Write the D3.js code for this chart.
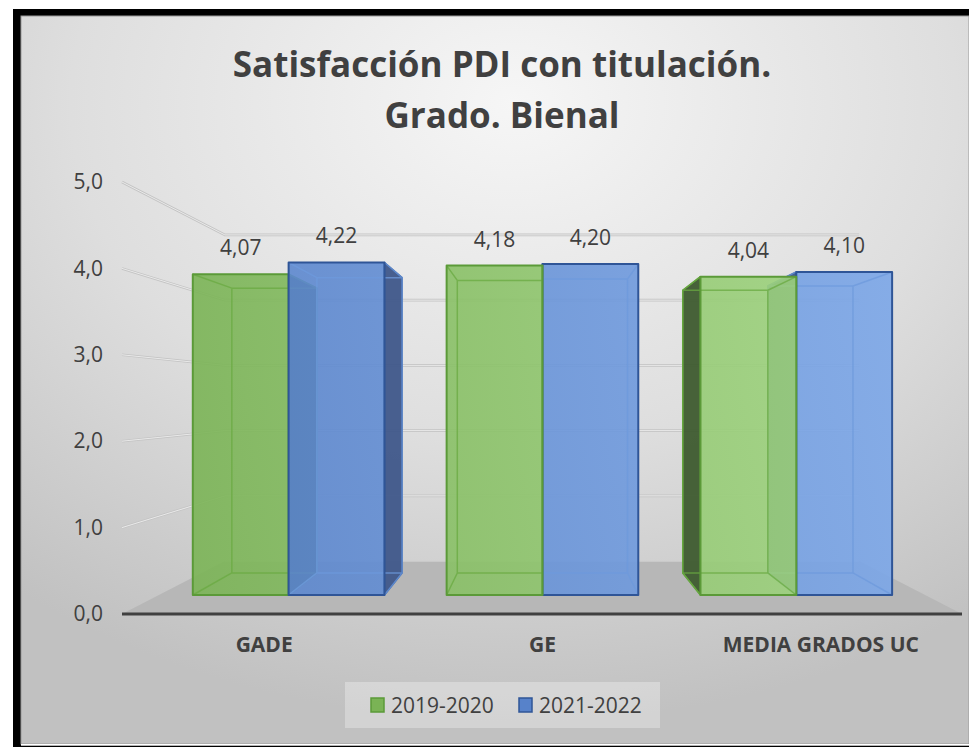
<!DOCTYPE html>
<html>
<head>
<meta charset="utf-8">
<script src="https://cdn.jsdelivr.net/npm/d3@7"></script>
<style>
  body { margin: 0; background: #fff; }
  svg { display: block; font-family: "Open Sans", sans-serif; }
</style>
</head>
<body>
<script>
// Chart data
const categories = ['GADE', 'GE', 'MEDIA GRADOS UC'];
const seriesNames = ['2019-2020', '2021-2022'];
const values2019 = [4.07, 4.18, 4.04];
const values2021 = [4.22, 4.20, 4.10];
const yTicks = [0, 1, 2, 3, 4, 5];
const titleLines = ['Satisfacción PDI con titulación.', 'Grado. Bienal'];

const width = 969, height = 747;
const textColor = '#404040';

// colours per series: face gradient, outline, dark side, inner edges
const seriesStyle = [
  { from: '#7ab355', to: '#a2d683', stroke: '#5b9a38', side: '#3e5b2f', inner: '#6aaa42' },
  { from: '#5782ca', to: '#7ca7e8', stroke: '#2f5597', side: '#3f578a', inner: '#6e99dc' }
];

// 3D perspective: vanishing point and depth scale of each plane
const VPX = 542, VPY = 398;
const depth = { wall: 0.755, barFront: 0.912, barBack: 0.81 };
const proj = (px, py, s) => [VPX + (px - VPX) * s, VPY + (py - VPY) * s];

const svg = d3.select('body').append('svg')
  .attr('width', width)
  .attr('height', height);

const defs = svg.append('defs');

// background gradient
const bg = defs.append('radialGradient').attr('id', 'bg')
  .attr('cx', '52%').attr('cy', '12%').attr('r', '85%');
bg.append('stop').attr('offset', 0).attr('stop-color', '#f6f6f6');
bg.append('stop').attr('offset', 0.55).attr('stop-color', '#dedede');
bg.append('stop').attr('offset', 1).attr('stop-color', '#c1c1c1');

// bar gradients (lighter to the right)
seriesStyle.forEach((st, i) => {
  const g = defs.append('linearGradient').attr('id', 'bar' + i)
    .attr('gradientUnits', 'userSpaceOnUse')
    .attr('x1', 180).attr('x2', 900).attr('y1', 0).attr('y2', 0);
  g.append('stop').attr('offset', 0).attr('stop-color', st.from);
  g.append('stop').attr('offset', 1).attr('stop-color', st.to);
});

// Frame
svg.append('rect').attr('x', 13).attr('y', 9).attr('width', 956).attr('height', 738).attr('fill', '#000');
svg.append('rect').attr('x', 21).attr('y', 16).attr('width', 948).attr('height', 728)
  .attr('fill', 'url(#bg)').attr('stroke', '#9a9a9a').attr('stroke-width', 1);
svg.append('rect').attr('x', 21).attr('y', 744).attr('width', 948).attr('height', 1.7).attr('fill', '#fff');

// Scales
const x = d3.scaleBand()
  .domain(categories)
  .range([125, 960])
  .paddingInner(0.245)
  .paddingOuter(0.1225);

const xs = d3.scaleBand()
  .domain(seriesNames)
  .range([0, x.bandwidth()]);

const y = d3.scaleLinear()
  .domain([0, 5])
  .range([614, 182]);

const axisLeftX = 122, axisRightX = 962;
const line = d3.line();

// Floor
const floorPts = [
  [axisLeftX, y(0)], [axisRightX, y(0)],
  proj(axisRightX, y(0), depth.wall), proj(axisLeftX, y(0), depth.wall)
];
svg.append('path')
  .attr('d', line(floorPts) + 'Z')
  .attr('fill', '#b7b7b7');

// Gridlines on the side wall and the back wall
const grid = svg.append('g');
yTicks.filter(v => v > 0).forEach(v => {
  const pts = [[axisLeftX, y(v)], proj(axisLeftX, y(v), depth.wall), proj(axisRightX, y(v), depth.wall)];
  grid.append('path').attr('d', line(pts)).attr('fill', 'none')
    .attr('stroke', '#c4c4c4').attr('stroke-width', 2.6);
  grid.append('path').attr('d', line(pts)).attr('fill', 'none')
    .attr('stroke', '#e9e9e9').attr('stroke-width', 1);
});
// back edge of the floor
grid.append('path')
  .attr('d', line([proj(axisLeftX, y(0), depth.wall), proj(axisRightX, y(0), depth.wall)]))
  .attr('stroke', '#cfcfcf').attr('stroke-width', 1.5);

// Bars
const bars = [];
categories.forEach((c, ci) => {
  [values2019, values2021].forEach((vals, si) => {
    const x0 = x(c) + xs(seriesNames[si]);
    bars.push({ cat: c, si, value: vals[ci], x0, x1: x0 + xs.bandwidth() });
  });
});
// draw the bars furthest from the vanishing point first
const drawOrder = bars.slice().sort((a, b) =>
  Math.abs((b.x0 + b.x1) / 2 - VPX) - Math.abs((a.x0 + a.x1) / 2 - VPX));

const barLayer = svg.append('g');
drawOrder.forEach(b => {
  const st = seriesStyle[b.si];
  const top = y(b.value), bot = y(0);
  const f = depth.barFront, k = depth.barBack;
  const F = [proj(b.x0, top, f), proj(b.x1, top, f), proj(b.x1, bot, f), proj(b.x0, bot, f)];
  const B = [proj(b.x0, top, k), proj(b.x1, top, k), proj(b.x1, bot, k), proj(b.x0, bot, k)];
  const g = barLayer.append('g');

  // outer side face (only the one turned to the viewer)
  let side = null;
  if (b.x1 < VPX) side = [F[1], B[1], B[2], F[2]];
  else if (b.x0 > VPX) side = [F[0], B[0], B[3], F[3]];
  if (side) {
    g.append('path').attr('d', line(side) + 'Z')
      .attr('fill', st.side).attr('fill-opacity', 0.95)
      .attr('stroke', st.stroke).attr('stroke-width', 1.5).attr('stroke-linejoin', 'round');
  }

  // front face
  g.append('path').attr('d', line(F) + 'Z')
    .attr('fill', `url(#bar${b.si})`).attr('fill-opacity', 0.9);

  // inner edges seen through the front face
  const inner = line(B) + 'Z' + F.map((p, i) => 'M' + p + 'L' + B[i]).join('');
  g.append('path').attr('d', inner).attr('fill', 'none')
    .attr('stroke', st.inner).attr('stroke-width', 1.5).attr('stroke-opacity', 0.75);

  // front outline
  g.append('path').attr('d', line(F) + 'Z').attr('fill', 'none')
    .attr('stroke', st.stroke).attr('stroke-width', 2).attr('stroke-linejoin', 'round');
});

// Data labels
const fmt = d3.formatLocale({ decimal: ',', thousands: '.', grouping: [3], currency: ['', '€'] });
svg.append('g').selectAll('text')
  .data(bars)
  .enter()
  .append('text')
  .attr('x', d => proj((d.x0 + d.x1) / 2, 0, depth.barFront)[0])
  .attr('y', d => proj(0, y(d.value), depth.barFront)[1] - 19)
  .attr('text-anchor', 'middle')
  .style('font-size', '21px')
  .style('fill', textColor)
  .text(d => fmt.format('.2f')(d.value));

// Axis line
svg.append('line')
  .attr('x1', axisLeftX).attr('x2', axisRightX)
  .attr('y1', y(0)).attr('y2', y(0))
  .attr('stroke', textColor).attr('stroke-width', 3);

// Y axis labels
const yAxis = svg.append('g')
  .attr('transform', `translate(${axisLeftX},0)`)
  .call(d3.axisLeft(y).tickValues(yTicks).tickSize(0).tickPadding(19).tickFormat(fmt.format('.1f')));
yAxis.select('.domain').remove();
yAxis.attr('font-family', null).attr('font-size', null);
yAxis.selectAll('text').style('font-size', '21px').style('fill', textColor);

// X axis labels
const xAxis = svg.append('g')
  .attr('transform', `translate(0,${y(0)})`)
  .call(d3.axisBottom(x).tickSize(0).tickPadding(23));
xAxis.select('.domain').remove();
xAxis.attr('font-family', null).attr('font-size', null);
xAxis.selectAll('text').style('font-size', '21px').style('font-weight', 'bold').style('fill', textColor);

// Title
svg.append('g').selectAll('text')
  .data(titleLines)
  .enter()
  .append('text')
  .attr('x', 502)
  .attr('y', (d, i) => 77 + i * 51)
  .attr('text-anchor', 'middle')
  .style('font-size', '35px')
  .style('font-weight', 'bold')
  .style('fill', textColor)
  .text(d => d);

// Legend
const legend = svg.append('g');
legend.append('rect')
  .attr('x', 345).attr('y', 682).attr('width', 315).attr('height', 46)
  .attr('fill', '#fff').attr('fill-opacity', 0.3);
const legendX = [371, 519];
seriesNames.forEach((name, i) => {
  legend.append('rect')
    .attr('x', legendX[i]).attr('y', 698).attr('width', 13).attr('height', 14)
    .attr('fill', seriesStyle[i].from)
    .attr('stroke', seriesStyle[i].stroke).attr('stroke-width', 1.5);
  legend.append('text')
    .attr('x', legendX[i] + 20).attr('y', 713)
    .style('font-size', '21px')
    .style('fill', textColor)
    .text(name);
});
</script>
</body>
</html>
